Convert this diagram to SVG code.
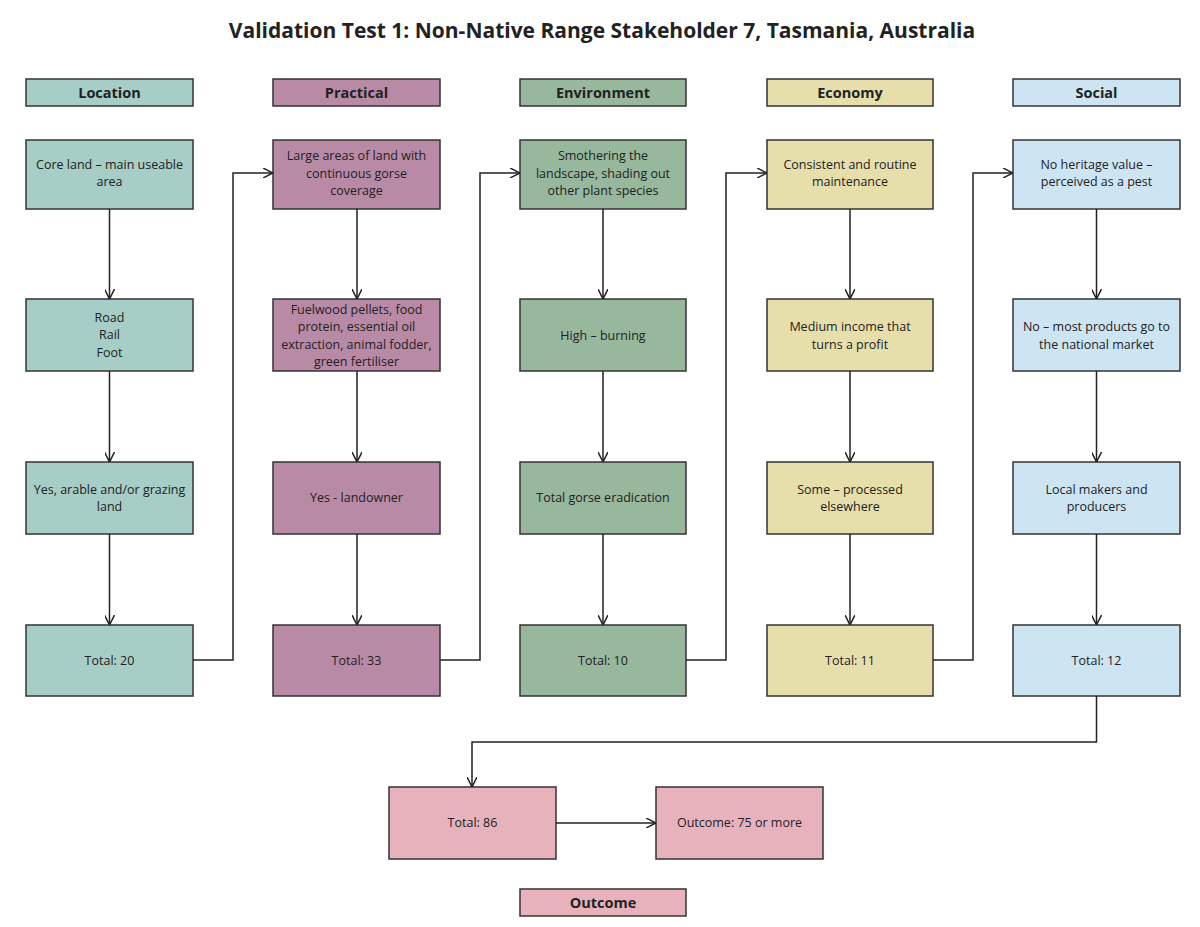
<svg xmlns="http://www.w3.org/2000/svg" width="1200" height="927" viewBox="0 0 1200 927">
<style>
text{font-family:"Open Sans","Liberation Sans",sans-serif;font-size:12.5px;fill:#222;text-anchor:middle}
.h{font-weight:bold;font-size:14.5px}
.t{font-weight:bold;font-size:21px}
g rect{stroke:#333;stroke-width:1.5}
.loc{fill:#a6cdc6}.pra{fill:#b98aa6}.env{fill:#97b89c}.eco{fill:#e6dfac}.soc{fill:#cde5f3}.out{fill:#e8b2bd}
.c path{fill:none;stroke:#222;stroke-width:1.5;marker-end:url(#a)}
</style>
<defs><marker id="a" viewBox="0 0 10 10" refX="10" refY="5" markerWidth="10" markerHeight="10" markerUnits="userSpaceOnUse" orient="auto"><path d="M0,0L10,5L0,10" fill="none" stroke="#222" stroke-width="1.5"/></marker></defs>
<rect width="1200" height="927" fill="#fff" style="stroke:none"/>
<text class="t" x="602" y="38">Validation Test 1: Non-Native Range Stakeholder 7, Tasmania, Australia</text>
<g id="h1"><rect class="loc" x="26" y="79" width="167" height="27"/><text class="h" x="109.5" y="98">Location</text></g>
<g id="h2"><rect class="pra" x="273" y="79" width="167" height="27"/><text class="h" x="356.5" y="98">Practical</text></g>
<g id="h3"><rect class="env" x="520" y="79" width="166" height="27"/><text class="h" x="603" y="98">Environment</text></g>
<g id="h4"><rect class="eco" x="767" y="79" width="166" height="27"/><text class="h" x="850" y="98">Economy</text></g>
<g id="h5"><rect class="soc" x="1013" y="79" width="167" height="27"/><text class="h" x="1096.5" y="98">Social</text></g>
<g id="l1"><rect class="loc" x="26" y="140" width="167" height="69"/><text x="109.5" y="169">Core land – main useable</text><text x="109.5" y="186">area</text></g>
<g id="l2"><rect class="loc" x="26" y="299" width="167" height="72"/><text x="109.5" y="322">Road</text><text x="109.5" y="339">Rail</text><text x="109.5" y="357">Foot</text></g>
<g id="l3"><rect class="loc" x="26" y="462" width="167" height="72"/><text x="109.5" y="494">Yes, arable and/or grazing</text><text x="109.5" y="511">land</text></g>
<g id="l4"><rect class="loc" x="26" y="625" width="167" height="71"/><text x="109.5" y="665">Total: 20</text></g>
<g id="p1"><rect class="pra" x="273" y="140" width="167" height="69"/><text x="356.5" y="160">Large areas of land with</text><text x="356.5" y="178">continuous gorse</text><text x="356.5" y="195">coverage</text></g>
<g id="p2"><rect class="pra" x="273" y="299" width="167" height="72"/><text x="356.5" y="314">Fuelwood pellets, food</text><text x="356.5" y="331">protein, essential oil</text><text x="356.5" y="349">extraction, animal fodder,</text><text x="356.5" y="366">green fertiliser</text></g>
<g id="p3"><rect class="pra" x="273" y="462" width="167" height="72"/><text x="356.5" y="502">Yes - landowner</text></g>
<g id="p4"><rect class="pra" x="273" y="625" width="167" height="71"/><text x="356.5" y="665">Total: 33</text></g>
<g id="e1"><rect class="env" x="520" y="140" width="166" height="69"/><text x="603" y="160">Smothering the</text><text x="603" y="178">landscape, shading out</text><text x="603" y="195">other plant species</text></g>
<g id="e2"><rect class="env" x="520" y="299" width="166" height="72"/><text x="603" y="340">High – burning</text></g>
<g id="e3"><rect class="env" x="520" y="462" width="166" height="72"/><text x="603" y="502">Total gorse eradication</text></g>
<g id="e4"><rect class="env" x="520" y="625" width="166" height="71"/><text x="603" y="665">Total: 10</text></g>
<g id="c1"><rect class="eco" x="767" y="140" width="166" height="69"/><text x="850" y="169">Consistent and routine</text><text x="850" y="186">maintenance</text></g>
<g id="c2"><rect class="eco" x="767" y="299" width="166" height="72"/><text x="850" y="331">Medium income that</text><text x="850" y="349">turns a profit</text></g>
<g id="c3"><rect class="eco" x="767" y="462" width="166" height="72"/><text x="850" y="494">Some – processed</text><text x="850" y="511">elsewhere</text></g>
<g id="c4"><rect class="eco" x="767" y="625" width="166" height="71"/><text x="850" y="665">Total: 11</text></g>
<g id="s1"><rect class="soc" x="1013" y="140" width="167" height="69"/><text x="1096.5" y="169">No heritage value –</text><text x="1096.5" y="186">perceived as a pest</text></g>
<g id="s2"><rect class="soc" x="1013" y="299" width="167" height="72"/><text x="1096.5" y="331">No – most products go to</text><text x="1096.5" y="349">the national market</text></g>
<g id="s3"><rect class="soc" x="1013" y="462" width="167" height="72"/><text x="1096.5" y="494">Local makers and</text><text x="1096.5" y="511">producers</text></g>
<g id="s4"><rect class="soc" x="1013" y="625" width="167" height="71"/><text x="1096.5" y="665">Total: 12</text></g>
<g id="total"><rect class="out" x="389" y="787" width="167" height="72"/><text x="472.5" y="827">Total: 86</text></g>
<g id="outcome"><rect class="out" x="656" y="787" width="167" height="72"/><text x="739.5" y="827">Outcome: 75 or more</text></g>
<g id="outlabel"><rect class="out" x="520" y="889" width="166" height="27"/><text class="h" x="603" y="908">Outcome</text></g>
<g class="c">
<path d="M109.5,209V299"/><path d="M109.5,371V462"/><path d="M109.5,534V625"/>
<path d="M357,209V299"/><path d="M357,371V462"/><path d="M357,534V625"/>
<path d="M603,209V299"/><path d="M603,371V462"/><path d="M603,534V625"/>
<path d="M850,209V299"/><path d="M850,371V462"/><path d="M850,534V625"/>
<path d="M1096.5,209V299"/><path d="M1096.5,371V462"/><path d="M1096.5,534V625"/>
<path d="M193,660H233V173H273"/><path d="M440,660H480V173H520"/><path d="M686,660H726V173H767"/><path d="M933,660H973V173H1013"/>
<path d="M1096.5,696V742H472V787"/><path d="M556,823H656"/>
</g>
</svg>
